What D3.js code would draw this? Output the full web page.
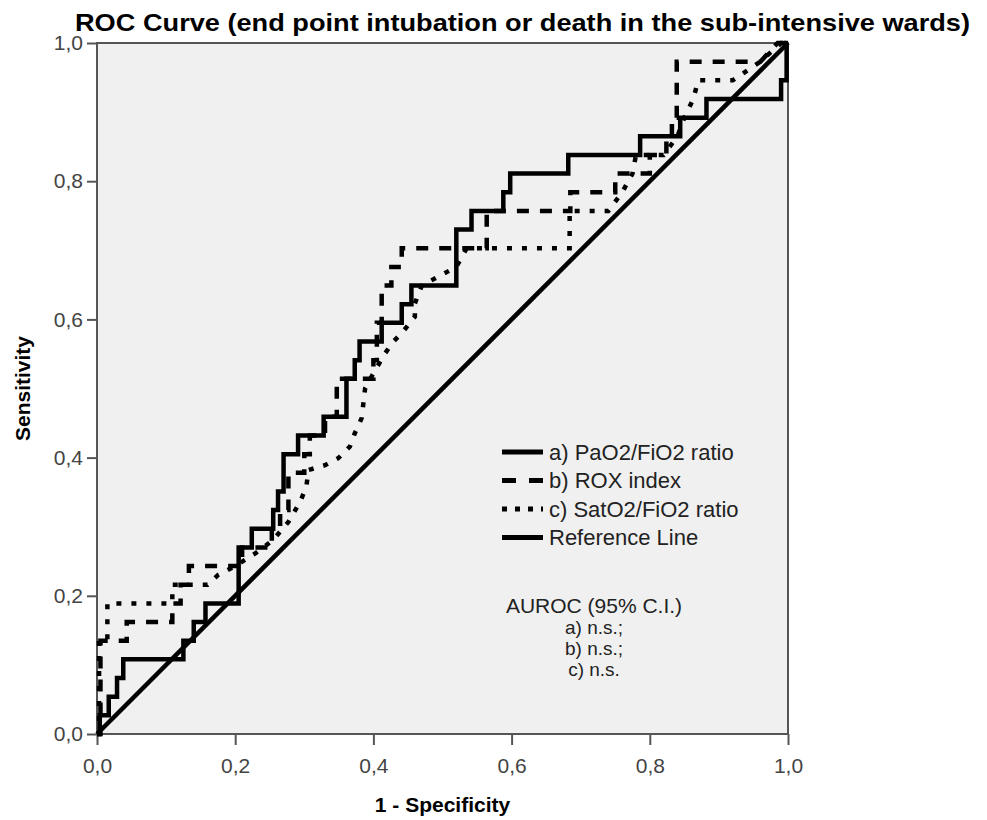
<!DOCTYPE html>
<html>
<head>
<meta charset="utf-8">
<script src="https://cdn.jsdelivr.net/npm/d3@7"></script>
<style>
  body { margin: 0; background: #fff; font-family: Arial, "Liberation Sans", sans-serif; }
</style>
</head>
<body>
<div id="chart"></div>
<script>
/* global d3 */
// tick values and labels text
let ticks = [0, 0.2, 0.4, 0.6, 0.8, 1.0]
let seriesNames = ["a) PaO2/FiO2 ratio", "b) ROX index", "c) SatO2/FiO2 ratio", "Reference Line"]
let aurocLines = ["AUROC (95% C.I.)", "a) n.s.;", "b) n.s.;", "c) n.s."]

// ROC points [1 - specificity, sensitivity]
let paoFio = [[0,0],[0.004,0],[0.004,0.027],[0.017,0.027],[0.017,0.054],[0.029,0.054],[0.029,0.081],
  [0.038,0.081],[0.038,0.108],[0.125,0.108],[0.125,0.135],[0.14,0.135],[0.14,0.162],[0.157,0.162],
  [0.157,0.189],[0.205,0.189],[0.205,0.27],[0.224,0.27],[0.224,0.297],[0.255,0.297],[0.255,0.324],
  [0.262,0.324],[0.262,0.351],[0.27,0.351],[0.27,0.405],[0.291,0.405],[0.291,0.432],[0.328,0.432],
  [0.328,0.459],[0.361,0.459],[0.361,0.514],[0.373,0.514],[0.373,0.541],[0.38,0.541],[0.38,0.568],
  [0.412,0.568],[0.412,0.595],[0.441,0.595],[0.441,0.622],[0.455,0.622],[0.455,0.649],[0.52,0.649],
  [0.52,0.73],[0.542,0.73],[0.542,0.757],[0.588,0.757],[0.588,0.784],[0.598,0.784],[0.598,0.811],
  [0.682,0.811],[0.682,0.838],[0.786,0.838],[0.786,0.865],[0.844,0.865],[0.844,0.892],[0.882,0.892],
  [0.882,0.919],[0.99,0.919],[0.99,0.946],[0.998,0.946],[0.998,1],[1,1]]

let roxIndex = [[0,0],[0.005,0],[0.005,0.135],[0.043,0.135],[0.043,0.162],[0.109,0.162],[0.109,0.189],
  [0.121,0.189],[0.121,0.216],[0.133,0.216],[0.133,0.243],[0.21,0.243],[0.21,0.27],[0.253,0.27],
  [0.253,0.297],[0.265,0.297],[0.265,0.324],[0.277,0.324],[0.277,0.378],[0.30,0.378],[0.30,0.405],
  [0.308,0.405],[0.308,0.432],[0.33,0.432],[0.33,0.459],[0.347,0.459],[0.347,0.514],[0.40,0.514],
  [0.40,0.541],[0.405,0.541],[0.405,0.595],[0.412,0.595],[0.412,0.649],[0.426,0.649],[0.426,0.676],
  [0.441,0.676],[0.441,0.703],[0.564,0.703],[0.564,0.757],[0.685,0.757],[0.685,0.784],[0.75,0.784],
  [0.75,0.811],[0.80,0.811],[0.80,0.838],[0.824,0.838],[0.824,0.865],[0.832,0.865],[0.832,0.892],
  [0.839,0.892],[0.839,0.973],[0.96,0.973],[0.985,1],[1,1]]

let satFio = [[0,0],[0.003,0],[0.003,0.135],[0.015,0.135],[0.015,0.189],[0.109,0.189],[0.109,0.216],
  [0.16,0.216],[0.175,0.23],[0.2,0.243],[0.23,0.262],[0.255,0.281],[0.277,0.307],[0.294,0.336],
  [0.303,0.358],[0.306,0.382],[0.33,0.389],[0.349,0.399],[0.366,0.416],[0.373,0.435],[0.383,0.457],
  [0.388,0.5],[0.40,0.522],[0.417,0.551],[0.429,0.568],[0.441,0.58],[0.46,0.604],[0.46,0.623],
  [0.47,0.649],[0.52,0.676],[0.535,0.703],[0.684,0.703],[0.684,0.757],[0.74,0.757],[0.76,0.784],
  [0.775,0.811],[0.78,0.838],[0.82,0.838],[0.84,0.865],[0.85,0.892],[0.863,0.919],[0.87,0.946],
  [0.92,0.946],[0.96,0.973],[0.99,1],[1,1]]

let referenceLine = [[0,0],[1,1]]

let dashes = [null, "12,11", "5,10", null]

// DIMENSIONS
let margin = {top: 43, left: 97}
let width = 691, height = 691

let svg = d3.select("#chart").append("svg")
  .attr("width", 987)
  .attr("height", 820)

let g = svg.append("g")
  .attr("transform", "translate(" + margin.left + "," + margin.top + ")")

// SCALES
let xScale = d3.scaleLinear().domain([0, 1]).range([0, width])
let yScale = d3.scaleLinear().domain([0, 1]).range([height, 0])
let fmt = d => d3.format(".1f")(d).replace(".", ",")

g.append("rect")
  .attr("width", width)
  .attr("height", height)
  .attr("fill", "#f0f0f0")

// AXES
let xAxis = d3.axisBottom(xScale).tickValues(ticks).tickSize(11).tickPadding(13).tickFormat(fmt)
let yAxis = d3.axisLeft(yScale).tickValues(ticks).tickSize(10).tickPadding(4).tickFormat(fmt)

g.append("g")
  .attr("class", "x axis")
  .attr("transform", "translate(0," + height + ")")
  .call(xAxis)
g.append("g")
  .attr("class", "y axis")
  .call(yAxis)

g.selectAll(".axis .domain").remove()
g.selectAll(".axis .tick line").attr("stroke", "#555").attr("stroke-width", 2)
g.selectAll(".axis .tick text")
  .attr("fill", "#444")
  .style("font-size", "21px")
  .style("font-family", "Arial, 'Liberation Sans', sans-serif")

g.append("rect")
  .attr("width", width)
  .attr("height", height)
  .attr("fill", "none")
  .attr("stroke", "#555")
  .attr("stroke-width", 2)

// CURVES
let line = d3.line()
  .x(d => xScale(d[0]))
  .y(d => yScale(d[1]))

let curves = [paoFio, roxIndex, satFio, referenceLine]

g.selectAll(".curve")
  .data(curves.slice().reverse())
  .enter().append("path")
  .attr("class", "curve")
  .attr("d", line)
  .attr("fill", "none")
  .attr("stroke", "#000")
  .attr("stroke-width", 4.5)
  .attr("stroke-dasharray", (d, i) => dashes[3 - i])

// LEGEND
let legend = svg.append("g")
  .attr("transform", "translate(502,452)")

let rows = legend.selectAll(".row")
  .data(seriesNames)
  .enter().append("g")
  .attr("class", "row")
  .attr("transform", (d, i) => "translate(0," + (i * 28.5) + ")")

rows.append("line")
  .attr("x1", 0).attr("x2", 41)
  .attr("stroke", "#000")
  .attr("stroke-width", 5)
  .attr("stroke-dasharray", (d, i) => i == 1 ? "14,13" : i == 2 ? "5,8" : null)

rows.append("text")
  .attr("x", 47)
  .attr("dy", "0.36em")
  .attr("fill", "#222")
  .style("font-size", "22px")
  .text(d => d)

svg.append("g")
  .selectAll("text")
  .data(aurocLines)
  .enter().append("text")
  .attr("x", 594)
  .attr("y", (d, i) => 613 + i * 21)
  .attr("text-anchor", "middle")
  .attr("fill", "#222")
  .style("font-size", (d, i) => i == 0 ? "21px" : "19px")
  .text(d => d)

// TITLES
svg.append("text")
  .attr("x", 75)
  .attr("y", 31)
  .attr("textLength", 895)
  .attr("lengthAdjust", "spacingAndGlyphs")
  .style("font-size", "24px")
  .style("font-weight", "bold")
  .text("ROC Curve (end point intubation or death in the sub-intensive wards)")

svg.append("text")
  .attr("x", margin.left + width / 2)
  .attr("y", 812)
  .attr("text-anchor", "middle")
  .style("font-size", "21px")
  .style("font-weight", "bold")
  .text("1 - Specificity")

svg.append("text")
  .attr("transform", "translate(30," + (margin.top + height / 2) + "),rotate(-90)")
  .attr("text-anchor", "middle")
  .style("font-size", "21px")
  .style("font-weight", "bold")
  .text("Sensitivity")
</script>
</body>
</html>
